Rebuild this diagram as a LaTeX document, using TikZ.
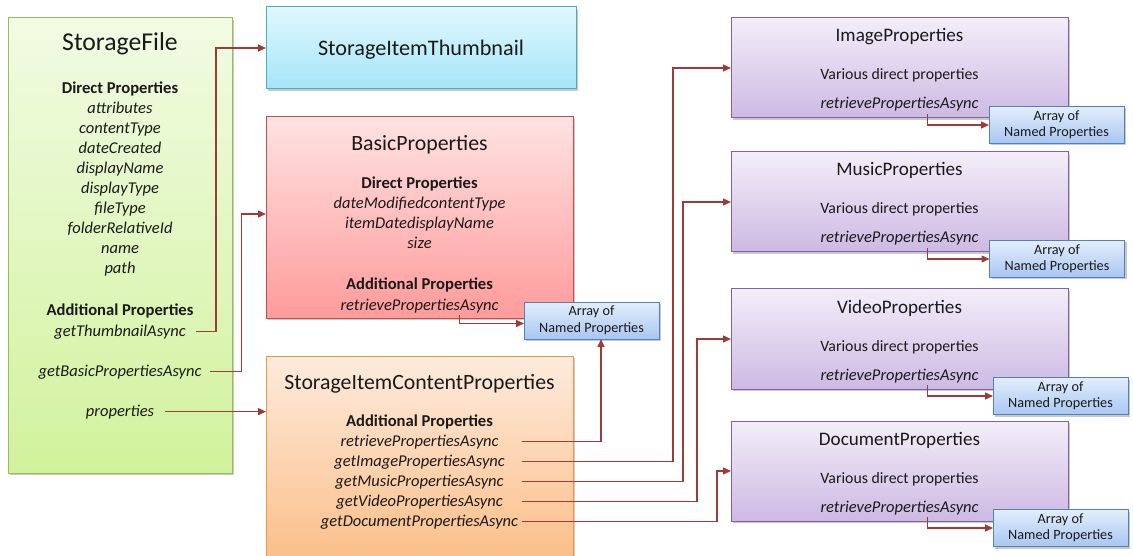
\documentclass[tikz,border=0pt]{standalone}
\usepackage{fontspec}
\setmainfont{Carlito}
\usepackage{tikz}
\usetikzlibrary{arrows.meta,positioning,calc,shadows}
\definecolor{fileline}{HTML}{9BBB59}
\definecolor{filetop}{HTML}{F1FBE3}
\definecolor{filebot}{HTML}{D1F29C}
\definecolor{thumbline}{HTML}{4BACC6}
\definecolor{thumbtop}{HTML}{E0F7FD}
\definecolor{thumbbot}{HTML}{A5E5F8}
\definecolor{basicline}{HTML}{C0504D}
\definecolor{basictop}{HTML}{FFE2E2}
\definecolor{basicbot}{HTML}{FF9B9B}
\definecolor{contentline}{HTML}{F79646}
\definecolor{contenttop}{HTML}{FDEBDD}
\definecolor{contentbot}{HTML}{FBBD86}
\definecolor{kindline}{HTML}{8064A2}
\definecolor{kindtop}{HTML}{F3EEF9}
\definecolor{kindbot}{HTML}{CDB9E3}
\definecolor{arrline}{HTML}{4F81BD}
\definecolor{arrtop}{HTML}{E3EEFC}
\definecolor{arrbot}{HTML}{A8C6F1}
\definecolor{linkred}{HTML}{9D3B39}
\definecolor{ink}{HTML}{1A1A1A}
\tikzset{
    classbox/.style={line width=1pt,inner sep=0pt,outer sep=0pt,
      drop shadow={shadow xshift=2pt,shadow yshift=-2pt,opacity=0.3,fill=black!70}},
    filebox/.style={classbox,draw=fileline,top color=filetop,bottom color=filebot,
      minimum width=224pt,minimum height=455pt},
    thumbbox/.style={classbox,draw=thumbline,top color=thumbtop,bottom color=thumbbot,
      minimum width=310pt,minimum height=82pt},
    basicbox/.style={classbox,draw=basicline,top color=basictop,bottom color=basicbot,
      minimum width=307pt,minimum height=201pt},
    contentbox/.style={classbox,draw=contentline,top color=contenttop,bottom color=contentbot,
      minimum width=307pt,minimum height=210pt},
    kindbox/.style={classbox,draw=kindline,top color=kindtop,bottom color=kindbot,
      minimum width=337pt,minimum height=100pt},
    arraybox/.style={classbox,draw=arrline,top color=arrtop,bottom color=arrbot,
      minimum width=135pt,minimum height=37pt,align=center,text=ink,
      font=\fontsize{14.2}{16.5}\selectfont},
    titletext/.style={text=ink,inner sep=2pt,font=\fontsize{#1}{#1}\selectfont},
    plaintext/.style={text=ink,inner sep=2pt,font=\fontsize{15.8}{18}\selectfont},
    proptext/.style={plaintext,font=\fontsize{16.5}{18}\selectfont\itshape},
    headtext/.style={plaintext,font=\fontsize{16.6}{18}\selectfont\bfseries},
    callarrow/.style={-{Triangle[length=8pt,width=7pt]},draw=linkred,line width=1.4pt}
}
\begin{document}
\begin{tikzpicture}[x=1pt,y=-1pt]
  \useasboundingbox (0,0) rectangle (1133,556);
  % StorageFile
  \node[filebox] (sf) at (120,245.5) {};
  \node[titletext=25.7,anchor=base] (sf-title) at (120,51) {StorageFile};
  \node[headtext,anchor=base] (sf-direct) at (120,94) {Direct Properties};
  \foreach \prop [count=\i] in {attributes,contentType,dateCreated,displayName,
      displayType,fileType,folderRelativeId,name,path}
    \node[proptext,anchor=base] (sf-p\i) at (120,94+20*\i) {\prop};
  \node[headtext,anchor=base] (sf-add) at (120,315) {Additional Properties};
  \node[proptext,anchor=base] (sf-thumb) at (120,336) {getThumbnailAsync};
  \node[proptext,anchor=base] (sf-basic) at (120,376) {getBasicPropertiesAsync};
  \node[proptext,anchor=base] (sf-props) at (120,416) {properties};

  % StorageItemThumbnail
  \node[thumbbox] (thumb) at (421,48) {};
  \node[titletext=22.2,anchor=base] (thumb-title) at (421,55.5) {StorageItemThumbnail};

  % BasicProperties
  \node[basicbox] (basic) at (419.5,217.5) {};
  \node[titletext=21.8,anchor=base] (basic-title) at (419.5,150.5) {BasicProperties};
  \node[headtext,anchor=base] (basic-direct) at (419.5,189) {Direct Properties};
  \foreach \prop [count=\i] in {dateModifiedcontentType,itemDatedisplayName,size}
    \node[proptext,anchor=base] (basic-p\i) at (419.5,189+20*\i) {\prop};
  \node[headtext,anchor=base] (basic-add) at (419.5,290) {Additional Properties};
  \node[proptext,anchor=base] (basic-retr) at (419.5,310) {retrievePropertiesAsync};
  \node[arraybox] (basic-arr) at (591.5,320.5) {Array of\\Named Properties};
  \draw[callarrow] ([xshift=40pt]basic-retr.south) |- ([yshift=-3pt]basic-arr.west);

  % StorageItemContentProperties
  \node[contentbox] (content) at (419.5,461) {};
  \node[titletext=21.8,anchor=base] (content-title) at (419.5,389.5) {StorageItemContentProperties};
  \node[headtext,anchor=base] (content-add) at (419.5,426) {Additional Properties};
  \node[proptext,anchor=base] (content-retr) at (419.5,446) {retrievePropertiesAsync};
  \node[proptext,anchor=base] (content-img) at (419.5,466) {getImagePropertiesAsync};
  \node[proptext,anchor=base] (content-music) at (419.5,486) {getMusicPropertiesAsync};
  \node[proptext,anchor=base] (content-video) at (419.5,506) {getVideoPropertiesAsync};
  \node[proptext,anchor=base] (content-doc) at (419.5,526) {getDocumentPropertiesAsync};
  \coordinate (content-col) at ([xshift=2pt]content-doc.east);

  % ImageProperties, MusicProperties, VideoProperties, DocumentProperties
  \foreach \kind/\title/\top/\ax in {ip/ImageProperties/18/1056.5,
      mp/MusicProperties/152/1057,vp/VideoProperties/289/1060.5,
      dp/DocumentProperties/421/1060.5}{
    \node[kindbox] (\kind) at (899.5,\top+50) {};
    \node[titletext=19.1,anchor=base] (\kind-title) at (899.5,\top+24) {\title};
    \node[plaintext,anchor=base] (\kind-various) at (899.5,\top+62) {Various direct properties};
    \node[proptext,anchor=base] (\kind-retr) at (899.5,\top+91) {retrievePropertiesAsync};
    \node[arraybox] (\kind-arr) at (\ax,\top+107) {Array of\\Named Properties};
    \draw[callarrow] ([xshift=28pt]\kind-retr.south) |- (\kind-arr.west);
  }

  % calls from StorageFile
  \draw[callarrow] ([xshift=8pt]sf-thumb.east) -- ++(20,0) |- (thumb.west);
  \draw[callarrow] ([xshift=6pt]sf-basic.east) -- ++(32,0) |- ([yshift=3.5pt]basic.west);
  \draw[callarrow] ([xshift=9pt]sf-props.east) -- (sf-props.east -| content.west);

  % calls from StorageItemContentProperties
  \draw[callarrow] (content-retr.east -| content-col) -| ([xshift=9.5pt]basic-arr.south);
  \draw[callarrow] (content-img.east -| content-col) -| ([xshift=-58pt]ip.west) -- (ip.west);
  \draw[callarrow] (content-music.east -| content-col) -| ([xshift=-48pt]mp.west) -- (mp.west);
  \draw[callarrow] (content-video.east -| content-col) -| ([xshift=-34pt]vp.west) -- (vp.west);
  \draw[callarrow] (content-doc.east -| content-col) -| ([xshift=-14pt]dp.west) -- (dp.west);
\end{tikzpicture}
\end{document}
